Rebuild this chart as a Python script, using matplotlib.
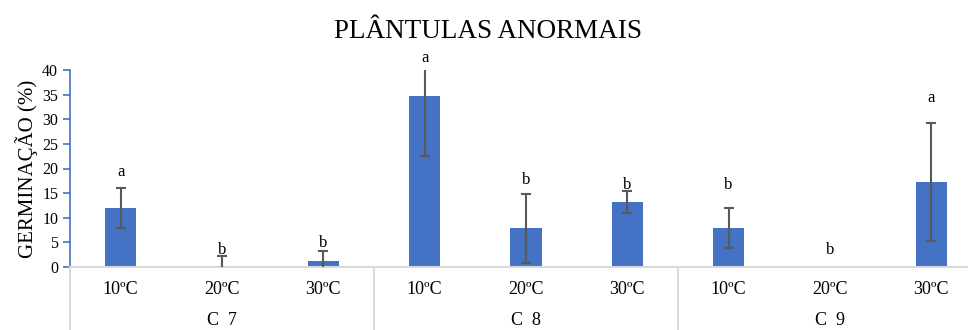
import numpy as np
from matplotlib import pyplot as plt

# data
temps = ['10ºC', '20ºC', '30ºC']
groups = ['C  7', 'C  8', 'C  9']
valores = [12.0, 0.0, 1.2, 34.7, 7.9, 13.2, 7.9, 0.0, 17.2]
erros = [4.0, 2.2, 2.1, 12.2, 7.0, 2.3, 4.0, np.nan, 12.0]
letras = ['a', 'b', 'b', 'a', 'b', 'b', 'b', 'b', 'a']
letras_y = [19.3, 3.4, 4.9, 42.4, 17.6, 16.6, 16.6, 3.4, 34.3]

plt.rcParams['font.family'] = ['Liberation Serif', 'DejaVu Serif']

fig = plt.figure(figsize=(9.68, 3.30), dpi=100)
ax = fig.add_axes([70/968, 1-267/330, 912/968, 197/330])

x = np.arange(len(valores))
ax.bar(x, valores, width=0.31, color='#4472C4', zorder=2)
ax.errorbar(x, valores, yerr=erros, fmt='none', ecolor='#595959', elinewidth=1.5,
            capsize=3.5, capthick=1.5, zorder=3)

for xi, l, ly in zip(x, letras, letras_y):
    ax.text(xi, ly, l, ha='center', va='center', fontsize=12, clip_on=False)

ax.set_xlim(-0.5, 8.5)
ax.set_ylim(0, 40)
ax.set_yticks(range(0, 41, 5))
ax.tick_params(axis='y', colors='#4472C4', labelcolor='black', labelsize=11.5,
               length=5, width=1.2, direction='out')
ax.set_xticks([])
for s in ['top', 'right']:
    ax.spines[s].set_visible(False)
ax.spines['left'].set_color('#4472C4')
ax.spines['left'].set_linewidth(1.2)
ax.spines['bottom'].set_color('#D9D9D9')
ax.spines['bottom'].set_linewidth(1.5)

# multi-level category axis
trans = ax.get_xaxis_transform()
for xs in [-0.5, 2.5, 5.5, 8.5]:
    ax.plot([xs, xs], [0, -0.33], color='#D9D9D9', lw=1.5, transform=trans, clip_on=False)
for i, xi in enumerate(x):
    ax.text(xi, -0.115, temps[i % 3], ha='center', va='center', fontsize=13, transform=trans)
for g, gname in enumerate(groups):
    ax.text(3*g + 1, -0.27, gname, ha='center', va='center', fontsize=13, transform=trans)

ax.set_ylabel('GERMINAÇÃO (%)', fontsize=15, labelpad=3)
fig.text(0.504, 0.905, 'PLÂNTULAS ANORMAIS', ha='center', va='center', fontsize=19.5)

plt.savefig('out.png', dpi=100)
